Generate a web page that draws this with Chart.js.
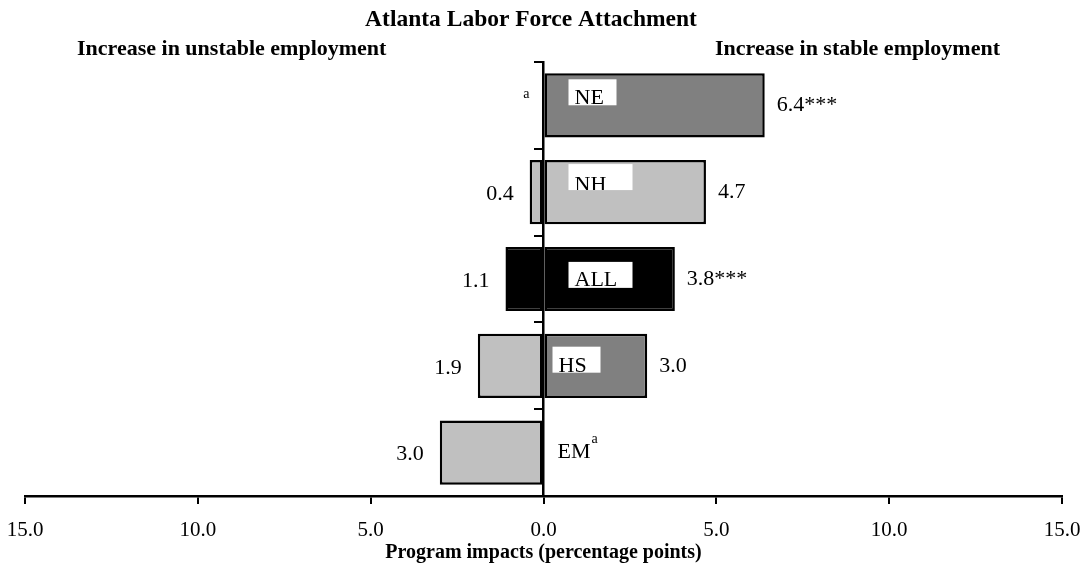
<!DOCTYPE html>
<html>
<head>
<meta charset="utf-8">
<script src="https://cdn.jsdelivr.net/npm/chart.js@4"></script>
<style>
  html, body { margin: 0; padding: 0; background: #fff; }
  #wrap { width: 1085px; height: 566px; }
</style>
</head>
<body>
<div id="wrap"><canvas id="impactChart" width="1085" height="566"></canvas></div>
<script>
// Program impacts, percentage points
const categories = ['NE', 'NH', 'ALL', 'HS', 'EM'];
const unstableImpacts = [null, 0.4, 1.1, 1.9, 3.0];
const stableImpacts = [6.4, 4.7, 3.8, 3.0, null];
const unstableLabels = ['a', '0.4', '1.1', '1.9', '3.0'];
const stableLabels = ['6.4***', '4.7', '3.8***', '3.0', ''];
const categoryNotes = ['', '', '', '', 'a'];
const axisTicks = [-15, -10, -5, 0, 5, 10, 15];

const chartTitle = 'Atlanta Labor Force Attachment';
const leftHeading = 'Increase in unstable employment';
const rightHeading = 'Increase in stable employment';
const axisTitle = 'Program impacts (percentage points)';

// bar fills
const unstableColors = ['#c0c0c0', '#c0c0c0', '#000000', '#c0c0c0', '#c0c0c0'];
const stableColors = ['#808080', '#c0c0c0', '#000000', '#808080', '#808080'];

// white name boxes drawn inside the bars (offsets from axis / bar top)
const nameBoxes = [
  { dx: 25, dy: 6, w: 48, ty: -1 },
  { dx: 25, dy: 4, w: 64, ty: 1 },
  { dx: 25, dy: 15, w: 64, ty: -2 },
  { dx: 9, dy: 13, w: 48, ty: -1 },
  null
];

const SERIF = '"Liberation Serif", "Times New Roman", serif';

const labelPlugin = {
  id: 'labelPlugin',
  beforeDraw(chart) {
    const ctx = chart.ctx;
    ctx.save();
    ctx.fillStyle = '#fff';
    ctx.fillRect(0, 0, chart.width, chart.height);
    ctx.restore();
  },
  afterDraw(chart) {
    const ctx = chart.ctx;
    const xs = chart.scales.x;
    const zero = xs.getPixelForValue(0);
    const unstableMeta = chart.getDatasetMeta(0);
    const stableMeta = chart.getDatasetMeta(1);

    ctx.save();
    ctx.fillStyle = '#000';
    ctx.textBaseline = 'alphabetic';

    // headings
    ctx.font = 'bold 23.5px ' + SERIF;
    ctx.textAlign = 'center';
    ctx.fillText(chartTitle, 531, 26);
    ctx.font = 'bold 22px ' + SERIF;
    ctx.textAlign = 'left';
    ctx.fillText(leftHeading, 77, 55);
    ctx.fillText(rightHeading, 715, 55);

    // x axis title
    ctx.font = 'bold 20px ' + SERIF;
    ctx.textAlign = 'center';
    ctx.fillText(axisTitle, zero, 558);

    categories.forEach((cat, i) => {
      const yc = chart.scales.y.getPixelForValue(i);
      const uBar = unstableMeta.data[i];
      const sBar = stableMeta.data[i];

      // right hand value labels
      if (stableImpacts[i] != null) {
        ctx.font = '22px ' + SERIF;
        ctx.textAlign = 'left';
        ctx.textBaseline = 'middle';
        ctx.fillText(stableLabels[i], sBar.x + 12, yc);
      }
      // left hand value labels
      if (unstableImpacts[i] != null) {
        ctx.font = '22px ' + SERIF;
        ctx.textAlign = 'right';
        ctx.textBaseline = 'middle';
        ctx.fillText(unstableLabels[i], uBar.x - 16, yc + 2);
      } else {
        ctx.font = '14px ' + SERIF;
        ctx.textAlign = 'right';
        ctx.textBaseline = 'middle';
        ctx.fillText(unstableLabels[i], zero - 14, yc - 11);
      }

      // category names
      const box = nameBoxes[i];
      const bar = sBar && stableImpacts[i] != null ? sBar : uBar;
      const barTop = bar.y - bar.height / 2;
      ctx.textAlign = 'left';
      ctx.textBaseline = 'alphabetic';
      ctx.font = '22px ' + SERIF;
      if (box) {
        const bx = zero + box.dx, by = barTop + box.dy, bh = 26;
        ctx.fillStyle = '#fff';
        ctx.fillRect(bx, by, box.w, bh);
        ctx.save();
        ctx.beginPath();
        ctx.rect(bx, by, box.w, bh);
        ctx.clip();
        ctx.fillStyle = '#000';
        ctx.fillText(cat, bx + 6, by + bh + box.ty);
        ctx.restore();
        ctx.fillStyle = '#000';
      } else {
        const tx = zero + 14;
        ctx.fillText(cat, tx, yc + 5);
        if (categoryNotes[i]) {
          const w = ctx.measureText(cat).width;
          ctx.font = '14px ' + SERIF;
          ctx.fillText(categoryNotes[i], tx + w + 1, yc - 10);
        }
      }
    });
    ctx.restore();
  }
};

new Chart(document.getElementById('impactChart'), {
  type: 'bar',
  data: {
    labels: categories,
    datasets: [
      {
        label: 'Unstable employment',
        data: unstableImpacts.map(v => v == null ? null : -v),
        backgroundColor: unstableColors,
        borderColor: '#000',
        borderWidth: 2.5,
        borderSkipped: false,
        barPercentage: 0.74,
        categoryPercentage: 1
      },
      {
        label: 'Stable employment',
        data: stableImpacts,
        backgroundColor: stableColors,
        borderColor: '#000',
        borderWidth: 2.5,
        borderSkipped: false,
        barPercentage: 0.74,
        categoryPercentage: 1
      }
    ]
  },
  options: {
    indexAxis: 'y',
    responsive: false,
    animation: false,
    layout: { padding: { top: 62, left: 25, right: 23, bottom: 0 } },
    plugins: {
      legend: { display: false },
      title: { display: false },
      tooltip: { enabled: false }
    },
    scales: {
      x: {
        type: 'linear',
        stacked: true,
        min: -15,
        max: 15,
        afterBuildTicks: scale => { scale.ticks = axisTicks.map(v => ({ value: v })); },
        afterFit: scale => {
          scale.height = 70;
          scale.paddingLeft = 0;
          scale.paddingRight = 0;
        },
        border: { color: '#000', width: 2.5 },
        grid: { drawOnChartArea: false, color: '#000', lineWidth: 2, tickLength: 8 },
        ticks: {
          padding: 14,
          color: '#000',
          font: { family: SERIF, size: 21 },
          maxRotation: 0,
          callback: v => Math.abs(v).toFixed(1)
        }
      },
      y: {
        type: 'category',
        stacked: true,
        position: { x: 0 },
        afterFit: scale => {
          scale.width = 0;
          scale.paddingTop = 0;
          scale.paddingBottom = 0;
        },
        border: { color: '#000', width: 2.5 },
        grid: { drawOnChartArea: false, color: '#000', lineWidth: 2, tickLength: 8, offset: true },
        ticks: { display: false }
      }
    }
  },
  plugins: [labelPlugin]
});
</script>
</body>
</html>
